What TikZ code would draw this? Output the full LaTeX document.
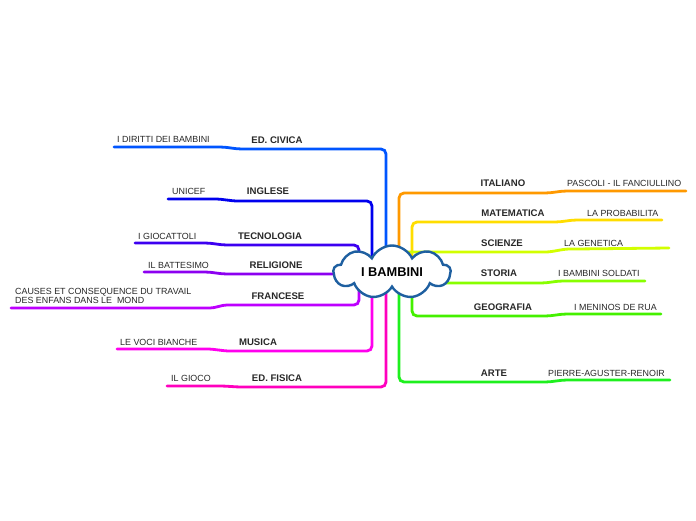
\documentclass[tikz,border=0pt]{standalone}
\usepackage{fontspec}
\setmainfont{Liberation Sans}
\usetikzlibrary{shapes.symbols, backgrounds}

\definecolor{cCivica}{RGB}{0,85,255}
\definecolor{cInglese}{RGB}{0,0,238}
\definecolor{cTecno}{RGB}{60,0,240}
\definecolor{cReligione}{RGB}{140,0,240}
\definecolor{cFrancese}{RGB}{190,0,255}
\definecolor{cMusica}{RGB}{255,0,238}
\definecolor{cFisica}{RGB}{255,0,190}
\definecolor{cItaliano}{RGB}{255,153,0}
\definecolor{cMate}{RGB}{255,221,0}
\definecolor{cScienze}{RGB}{210,255,0}
\definecolor{cStoria}{RGB}{136,255,0}
\definecolor{cGeo}{RGB}{68,240,0}
\definecolor{cArte}{RGB}{30,240,30}
\definecolor{cCloud}{RGB}{30,95,160}
\definecolor{cText}{RGB}{40,40,40}

\tikzset{
    topic/.style={font=\bfseries\fontsize{9.6}{11}\selectfont, text=cText, inner sep=0pt},
    leaf/.style={font=\fontsize{8.9}{9.6}\selectfont, text=cText, inner sep=0pt, anchor=west},
    branch/.style={line width=2.8pt, rounded corners=5pt, line cap=round}
}

\begin{document}
\begin{tikzpicture}[x=1pt, y=-1pt]
                \useasboundingbox (0,0) rectangle (696,520);
                % central idea
                \node[cloud, cloud puffs=9, cloud puff arc=130, draw=cCloud, line width=2.4pt, fill=white,
                      inner sep=0pt, minimum width=117pt, minimum height=53pt, cloud ignores aspect,
                      font=\bfseries\fontsize{12.8}{14}\selectfont] (root) at (392,272) {I BAMBINI};
                % left side
                \node[topic] (civica) at (277,140) {ED. CIVICA};
                \node[leaf] (diritti) at (117,139) {I DIRITTI DEI BAMBINI};
                \node[topic] (inglese) at (268,191) {INGLESE};
                \node[leaf] (unicef) at (172,191) {UNICEF};
                \node[topic] (tecno) at (270,236) {TECNOLOGIA};
                \node[leaf] (giocattoli) at (138,236) {I GIOCATTOLI};
                \node[topic] (religione) at (276,265) {RELIGIONE};
                \node[leaf] (battesimo) at (148,265) {IL BATTESIMO};
                \node[topic] (francese) at (278,296) {FRANCESE};
                \node[leaf, align=left] (cause) at (15,296) {CAUSES ET CONSEQUENCE DU TRAVAIL\\DES ENFANS DANS LE\ \ MOND};
                \node[topic] (musica) at (258,342) {MUSICA};
                \node[leaf] (voci) at (120,342) {LE VOCI BIANCHE};
                \node[topic] (fisica) at (277,378) {ED. FISICA};
                \node[leaf] (gioco) at (171,378) {IL GIOCO};
                % right side
                \node[topic] (italiano) at (503,183) {ITALIANO};
                \node[leaf] (pascoli) at (567,183) {PASCOLI - IL FANCIULLINO};
                \node[topic] (mate) at (513,213) {MATEMATICA};
                \node[leaf] (probabilita) at (587,213) {LA PROBABILITA};
                \node[topic] (scienze) at (502,243) {SCIENZE};
                \node[leaf] (genetica) at (564,243) {LA GENETICA};
                \node[topic] (storia) at (499,273) {STORIA};
                \node[leaf] (soldati) at (558,273) {I BAMBINI SOLDATI};
                \node[topic] (geo) at (503,307) {GEOGRAFIA};
                \node[leaf] (meninos) at (574,307) {I MENINOS DE RUA};
                \node[topic] (arte) at (494,373) {ARTE};
                \node[leaf] (renoir) at (548,373) {PIERRE-AGUSTER-RENOIR};
                % line ends
                \coordinate (civica-a) at (247,149);   \coordinate (civica-b) at (215,147);   \coordinate (civica-e) at (114,147);
                \coordinate (inglese-a) at (243,201);  \coordinate (inglese-b) at (210,199);  \coordinate (inglese-e) at (168,199);
                \coordinate (tecno-a) at (232,245);    \coordinate (tecno-b) at (200,243);    \coordinate (tecno-e) at (135,243);
                \coordinate (religione-a) at (232,274); \coordinate (religione-b) at (200,272); \coordinate (religione-e) at (144,272);
                \coordinate (francese-a) at (232,305); \coordinate (francese-b) at (205,308); \coordinate (francese-e) at (11,308);
                \coordinate (musica-a) at (235,351);   \coordinate (musica-b) at (202,349);   \coordinate (musica-e) at (117,349);
                \coordinate (fisica-a) at (247,387);   \coordinate (fisica-b) at (215,386);   \coordinate (fisica-e) at (167,386);
                \coordinate (italiano-a) at (540,193); \coordinate (italiano-b) at (572,191); \coordinate (italiano-e) at (686,191);
                \coordinate (mate-a) at (550,222);     \coordinate (mate-b) at (582,220);     \coordinate (mate-e) at (662,220);
                \coordinate (scienze-a) at (540,252);  \coordinate (scienze-b) at (575,249);  \coordinate (scienze-e) at (669,248);
                \coordinate (storia-a) at (536,283);   \coordinate (storia-b) at (568,281);   \coordinate (storia-e) at (645,281);
                \coordinate (geo-a) at (540,316);      \coordinate (geo-b) at (572,314);      \coordinate (geo-e) at (661,314);
                \coordinate (arte-a) at (540,382);     \coordinate (arte-b) at (572,380);     \coordinate (arte-e) at (670,380);
                \begin{scope}[on background layer]
                    \draw[branch, cCivica] ([xshift=-6pt]root.center) |- (civica-a) to[out=180, in=0] (civica-b) -- (civica-e);
                    \draw[branch, cInglese] ([xshift=-20pt]root.center) |- (inglese-a) to[out=180, in=0] (inglese-b) -- (inglese-e);
                    \draw[branch, cTecno] ([xshift=-33pt]root.center) |- (tecno-a) to[out=180, in=0] (tecno-b) -- (tecno-e);
                    \draw[branch, cReligione] ([yshift=-2pt]root.center) -- (religione-a) to[out=180, in=0] (religione-b) -- (religione-e);
                    \draw[branch, cFrancese] ([xshift=-33pt]root.center) |- (francese-a) to[out=180, in=0] (francese-b) -- (francese-e);
                    \draw[branch, cMusica] ([xshift=-20pt]root.center) |- (musica-a) to[out=180, in=0] (musica-b) -- (musica-e);
                    \draw[branch, cFisica] ([xshift=-6pt]root.center) |- (fisica-a) to[out=180, in=0] (fisica-b) -- (fisica-e);
                    \draw[branch, cItaliano] ([xshift=7pt]root.center) |- (italiano-a) to[out=0, in=180] (italiano-b) -- (italiano-e);
                    \draw[branch, cMate] ([xshift=20pt]root.center) |- (mate-a) to[out=0, in=180] (mate-b) -- (mate-e);
                    \draw[branch, cScienze] ([yshift=20pt]root.center) -- (scienze-a) to[out=0, in=180] (scienze-b) -- (scienze-e);
                    \draw[branch, cStoria] ([yshift=-11pt]root.center) -- (storia-a) to[out=0, in=180] (storia-b) -- (storia-e);
                    \draw[branch, cGeo] ([xshift=20pt]root.center) |- (geo-a) to[out=0, in=180] (geo-b) -- (geo-e);
                    \draw[branch, cArte] ([xshift=7pt]root.center) |- (arte-a) to[out=0, in=180] (arte-b) -- (arte-e);
                \end{scope}
            \end{tikzpicture}
\end{document}
